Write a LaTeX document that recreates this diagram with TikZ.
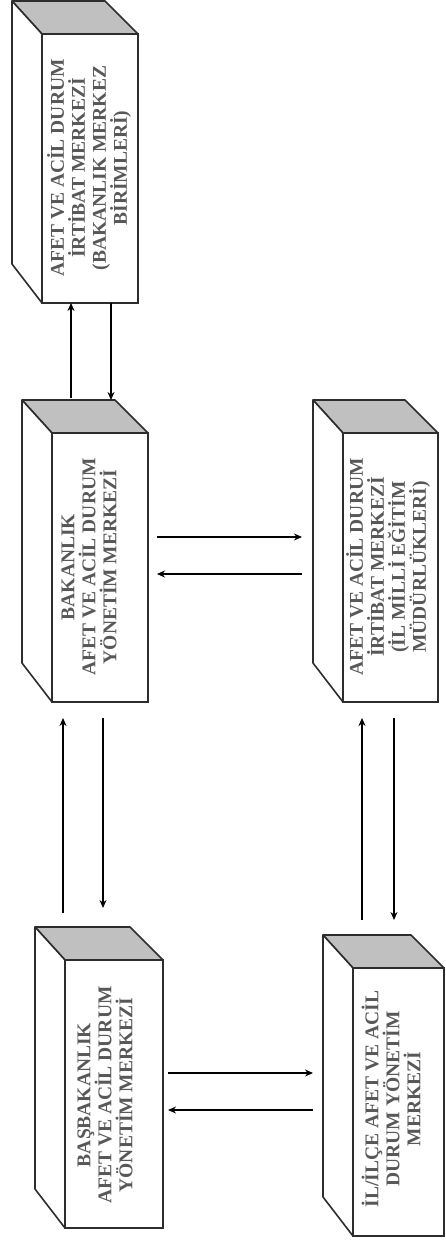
\documentclass[tikz,border=0pt]{standalone}
\usepackage{fontspec}
\setmainfont{Liberation Serif}
\usetikzlibrary{arrows.meta,calc}
\definecolor{topgray}{RGB}{192,192,192}
\definecolor{edgec}{RGB}{45,45,45}
\definecolor{txt}{RGB}{88,88,88}
\tikzset{
  face/.style={draw=edgec, line width=1.6pt, fill=white, inner sep=0pt, outer sep=0pt, rectangle, anchor=north west},
  side/.style={draw=edgec, line width=1.6pt, line join=round},
  lbl/.style={rotate=90, align=center, text=txt, inner sep=0pt, font=\fontsize{19.5}{21}\selectfont\bfseries},
  conn/.style={line width=1.4pt, -{Stealth[length=8pt,width=7pt]}}
}
% name, x1, y1, x2, y2
\newcommand\cubox[5]{%
  \node[face, minimum width={(#4-#2)*1pt}, minimum height={(#5-#3)*1pt}] (#1) at (#2,#3) {};
  \draw[side, fill=topgray] (#1.north west) -- ++(-30,-33) -- ($(#1.north east)+(-33,-33)$) -- (#1.north east) -- cycle;
  \draw[side, fill=white] (#1.north west) -- ++(-30,-33) -- ($(#1.south west)+(-30,-39)$) -- (#1.south west) -- cycle;
}
\begin{document}
\begin{tikzpicture}[x=1pt,y=-1pt]
\useasboundingbox (0,0) rectangle (446,1246);
\fill[white] (0,0) rectangle (446,1246);

\cubox{b1}{42}{34}{138}{303}
\cubox{b2}{52}{433}{148}{702}
\cubox{b3}{65}{960}{163}{1228}
\cubox{b4}{343}{433}{438}{702}
\cubox{b5}{353}{968}{444}{1236}

\node[lbl] (t1) at (89,168) {AFET VE ACİL DURUM\\İRTİBAT MERKEZİ\\(BAKANLIK MERKEZ\\BİRİMLERİ)};
\node[lbl] (t2) at (89,567) {BAKANLIK\\AFET VE ACİL DURUM\\YÖNETİM MERKEZİ};
\node[lbl] (t3) at (105,1095) {BAŞBAKANLIK\\AFET VE ACİL DURUM\\YÖNETİM MERKEZİ};
\node[lbl] (t4) at (388,567) {AFET VE ACİL DURUM\\İRTİBAT MERKEZİ\\(İL MİLLİ EĞİTİM\\MÜDÜRLÜKLERİ)};
\node[lbl] (t5) at (391,1099) {İL/İLÇE AFET VE ACİL\\DURUM YÖNETİM\\MERKEZİ};

% b1 <-> b2
\draw[conn] ($(b2.north west)+(19,-35)$) -- ($(b1.south west)+(29,0)$);
\draw[conn] ($(b1.south west)+(69,0)$) -- ($(b2.north west)+(59,-33)$);
% b2 <-> b3
\draw[conn] ($(b3.north west)+(-2,-47)$) -- ($(b2.south west)+(11,16)$);
\draw[conn] ($(b2.south west)+(51,16)$) -- ($(b3.north west)+(38,-52)$);
% b4 <-> b5
\draw[conn] ($(b5.north west)+(9,-48)$) -- ($(b4.south west)+(19,16)$);
\draw[conn] ($(b4.south west)+(51,16)$) -- ($(b5.north west)+(41,-48)$);
% b2 <-> b4
\draw[conn] ($(b2.north east)+(9,104)$) -- ($(b4.north west)+(-41,104)$);
\draw[conn] ($(b4.north west)+(-41,141)$) -- ($(b2.north east)+(9,141)$);
% b3 <-> b5
\draw[conn] ($(b3.north east)+(5,113)$) -- ($(b5.north west)+(-40,105)$);
\draw[conn] ($(b5.north west)+(-40,142)$) -- ($(b3.north east)+(5,150)$);
\end{tikzpicture}
\end{document}
